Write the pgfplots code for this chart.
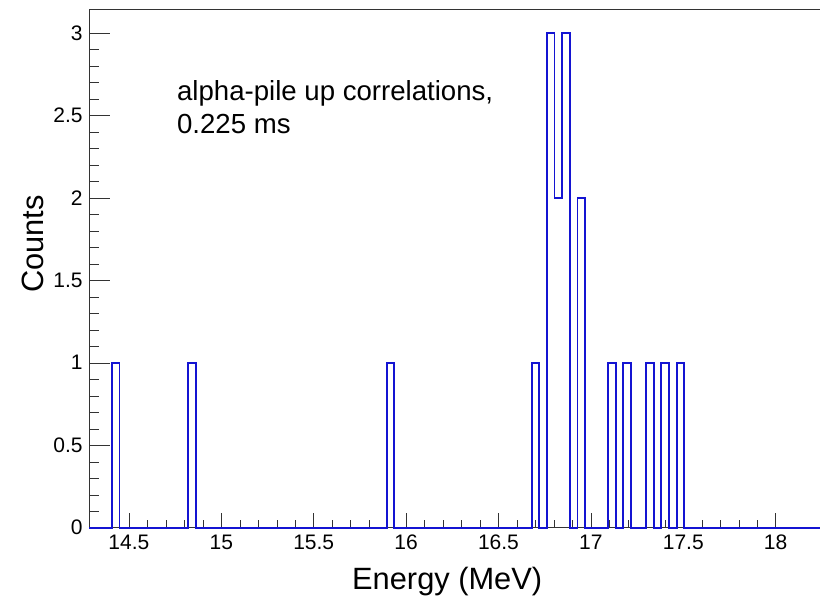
\documentclass[border=0pt]{standalone}
\usepackage{fontspec}
\setmainfont{Liberation Sans}
\usepackage{pgfplots}
\pgfplotsset{compat=1.18}
\definecolor{histblue}{RGB}{20,20,210}

\begin{document}
\begin{tikzpicture}
\begin{axis}[
    set layers,
    scale only axis,
    width=365.5pt, height=259pt,
    xmin=14.284, xmax=18.24,
    ymin=0, ymax=3.14,
    axis x line=box, axis y line=left,
    axis line style={-, black!80},
    tick pos=left,
    tick align=inside,
    xtick={14.5,15,...,18},
    ytick={0,0.5,...,3},
    minor tick num=4,
    x tick style={black!80, /pgfplots/major tick length=7.5pt, /pgfplots/minor tick length=3.75pt},
    y tick style={black!80, /pgfplots/major tick length=10.5pt, /pgfplots/minor tick length=5.25pt},
    /pgf/number format/assume math mode=true,
    xticklabel style={font=\fontsize{10.5}{12}\selectfont, inner sep=0pt, yshift=-3.5pt},
    yticklabel style={font=\fontsize{10.5}{12}\selectfont, inner sep=0pt, xshift=-3pt},
    xlabel={Energy (MeV)},
    ylabel={Counts},
    label style={font=\fontsize{15.4}{18}\selectfont},
    xlabel style={at={(axis description cs:0.49,0)}, anchor=base, yshift=-31pt},
    ylabel style={at={(axis description cs:-0.0616,0.548)}, anchor=base},
    clip=false,
]
% histogram outline, bin width about 0.0413 MeV
\addplot[const plot, color=histblue, line width=0.9pt, on layer=axis foreground] coordinates {
    (14.284,0) (14.4080,1) (14.4493,0) (14.8210,1) (14.8623,0)
    (15.8948,1) (15.9361,0) (16.6795,1) (16.7208,0) (16.7621,3)
    (16.8034,2) (16.8447,3) (16.8860,0) (16.9273,2) (16.9686,0)
    (17.0925,1) (17.1338,0) (17.1751,1) (17.2164,0) (17.2990,1)
    (17.3403,0) (17.3816,1) (17.4229,0) (17.4642,1) (17.5055,0)
    (18.24,0)
};
\node[anchor=north west, inner sep=0pt, align=left,
      font=\fontsize{13.8}{16.5}\selectfont]
      at (axis description cs:0.120,0.864) {alpha-pile up correlations,\\0.225 ms};
\coordinate (sw) at (axis description cs:0,0);
\coordinate (ne) at (axis description cs:1,1);
\end{axis}
\pgfresetboundingbox
\path ([shift={(-44.5pt,-39.15pt)}]sw) rectangle ([shift={(0pt,4.85pt)}]ne);
\end{tikzpicture}
\end{document}
